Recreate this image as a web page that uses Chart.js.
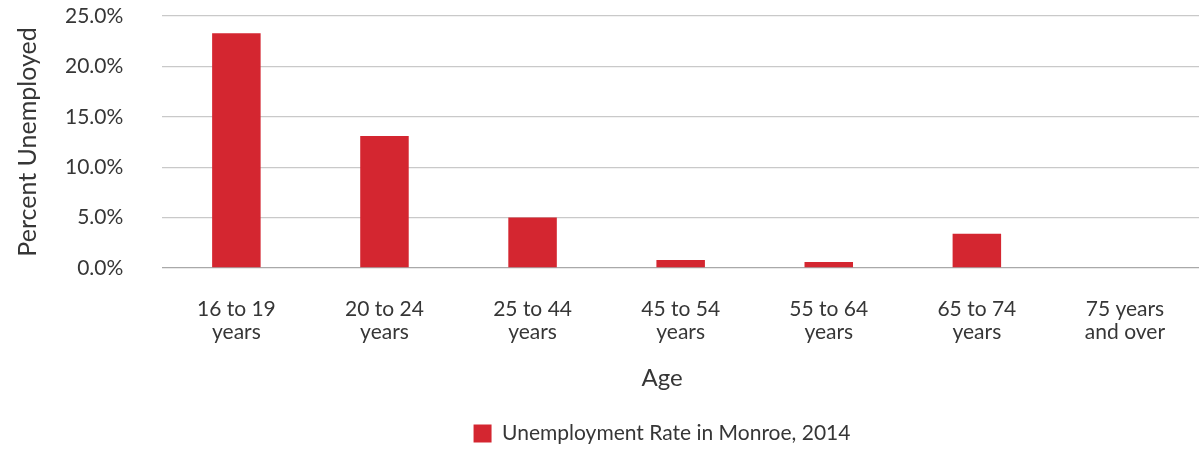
<!DOCTYPE html>
<html>
<head>
<meta charset="utf-8">
<script src="https://cdn.jsdelivr.net/npm/chart.js@4/dist/chart.umd.min.js"></script>
<style>
  html, body { margin: 0; padding: 0; background: #fff; }
  #wrap { width: 1203px; height: 449px; position: relative; }
</style>
</head>
<body>
<div id="wrap"><canvas id="chart"></canvas></div>
<script>
const ageGroups = [
  ['16 to 19', 'years'],
  ['20 to 24', 'years'],
  ['25 to 44', 'years'],
  ['45 to 54', 'years'],
  ['55 to 64', 'years'],
  ['65 to 74', 'years'],
  ['75 years', 'and over']
]
const unemploymentRate = [23.3, 13.1, 5.0, 0.8, 0.6, 3.4, 0]
const seriesLabel = 'Unemployment Rate in Monroe, 2014'
const xTitle = 'Age'
const yTitle = 'Percent Unemployed'

const textColor = '#363636'
const barColor = '#D42630'
const fontFamily = 'Lato, "Open Sans", sans-serif'

// the "Age" title and the legend sit a bit right of the canvas centre
const bottomBoxShift = {
  id: 'bottomBoxShift',
  afterLayout(chart) {
    const shift = 112
    if (chart.legend) chart.legend.left += shift
    if (chart.titleBlock) chart.titleBlock.left += shift
  }
}

new Chart(document.getElementById('chart'), {
  type: 'bar',
  data: {
    labels: ageGroups,
    datasets: [{
      label: seriesLabel,
      data: unemploymentRate,
      backgroundColor: barColor,
      borderWidth: 0,
      barPercentage: 0.5,
      categoryPercentage: 0.655
    }]
  },
  plugins: [bottomBoxShift],
  options: {
    responsive: true,
    maintainAspectRatio: false,
    animation: false,
    layout: {
      padding: { top: 16, right: 4, left: 13, bottom: -5 }
    },
    plugins: {
      title: {
        display: true,
        position: 'bottom',
        weight: 500,
        text: xTitle,
        color: textColor,
        font: { family: fontFamily, size: 24, weight: 'normal' },
        padding: { top: 20, bottom: 30 }
      },
      legend: {
        position: 'bottom',
        labels: {
          color: textColor,
          font: { family: fontFamily, size: 21 },
          boxWidth: 18,
          boxHeight: 18,
          padding: 0
        }
      },
      tooltip: { enabled: false }
    },
    scales: {
      y: {
        min: 0,
        max: 25,
        ticks: {
          stepSize: 5,
          color: textColor,
          padding: 0,
          font: { family: fontFamily, size: 21 },
          callback: (v) => v.toFixed(1) + '%'
        },
        grid: {
          color: (ctx) => ctx.tick && ctx.tick.value === 0 ? '#a9a9a9' : '#c9c9c9',
          lineWidth: 1.3,
          drawTicks: true,
          tickLength: 39,
          tickColor: 'transparent'
        },
        border: { display: false },
        title: {
          display: true,
          text: yTitle,
          color: textColor,
          font: { family: fontFamily, size: 25 },
          padding: { top: 0, bottom: 22 }
        }
      },
      x: {
        ticks: {
          color: textColor,
          padding: 0,
          maxRotation: 0,
          font: { family: fontFamily, size: 21, lineHeight: 1.1 }
        },
        grid: {
          color: 'transparent',
          drawOnChartArea: false,
          drawTicks: true,
          tickLength: 30
        },
        border: { display: false }
      }
    }
  }
})
</script>
</body>
</html>
